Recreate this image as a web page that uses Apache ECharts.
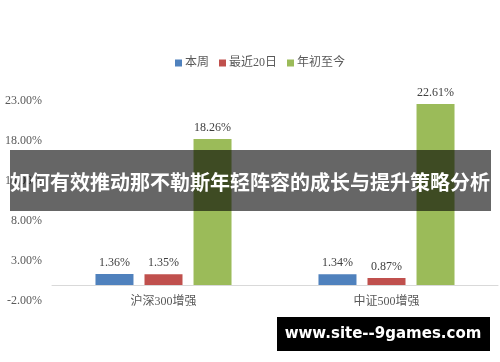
<!DOCTYPE html>
<html>
<head>
<meta charset="utf-8">
<script src="https://cdn.jsdelivr.net/npm/echarts@6/dist/echarts.min.js"></script>
<style>
html,body{margin:0;padding:0;background:#fff;}
#chart{width:500px;height:362px;}
</style>
</head>
<body>
<div id="chart"></div>
<script>
const categories = ['沪深300增强', '中证500增强'];
const seriesNames = ['本周', '最近20日', '年初至今'];
const weekValues = [1.36, 1.34];
const last20Values = [1.35, 0.87];
const ytdValues = [18.26, 22.61];
const yTicks = [-2, 3, 8, 13, 18, 23];
const bannerText = '如何有效推动那不勒斯年轻阵容的成长与提升策略分析';
const watermarkText = 'www.site--9games.com';

const colors = ['#4F81BD', '#C0504D', '#9BBB59'];
const serif = '"Liberation Serif", "Noto Sans CJK SC", serif';

const chart = echarts.init(document.getElementById('chart'), null, {renderer: 'canvas'});

function mkSeries(name, data, color) {
  return {
    name: name,
    type: 'bar',
    data: data,
    barWidth: 38,
    barGap: '29%',
    itemStyle: {color: color},
    label: {
      show: true,
      position: 'top',
      distance: 5,
      formatter: p => p.value.toFixed(2) + '%',
      fontFamily: serif,
      fontSize: 12,
      color: '#404040'
    }
  };
}

chart.setOption({
  animation: false,
  color: colors,
  legend: {
    top: 52,
    left: 170,
    itemWidth: 7,
    itemHeight: 7,
    itemGap: 10,
    icon: 'rect',
    textStyle: {fontFamily: serif, fontSize: 12, color: '#595959', padding: [0, 0, 0, -2]},
    data: seriesNames
  },
  grid: {left: 52, right: 2, top: 101, bottom: 61, containLabel: false},
  xAxis: {
    type: 'category',
    data: categories,
    axisLine: {show: true, onZero: true, lineStyle: {color: '#D9D9D9', width: 1}},
    axisTick: {show: false},
    axisLabel: {fontFamily: serif, fontSize: 12, color: '#595959', margin: -5}
  },
  yAxis: {
    type: 'value',
    min: yTicks[0],
    max: yTicks[yTicks.length - 1],
    interval: 5,
    splitLine: {show: false},
    axisLine: {show: false},
    axisTick: {show: false},
    axisLabel: {
      fontFamily: serif, fontSize: 12, color: '#595959', margin: 10,
      formatter: v => v.toFixed(2) + '%'
    }
  },
  series: [
    mkSeries(seriesNames[0], weekValues, colors[0]),
    mkSeries(seriesNames[1], last20Values, colors[1]),
    mkSeries(seriesNames[2], ytdValues, colors[2])
  ],
  graphic: [
    {type: 'rect', shape: {x: 10, y: 150, width: 481, height: 61}, style: {fill: 'rgba(0,0,0,0.6)'}, z: 100},
    {type: 'text', x: 250, y: 182, z: 101, style: {text: bannerText, fill: '#fff', font: 'bold 20px "Noto Sans CJK SC"', textAlign: 'center', textVerticalAlign: 'middle'}},
    {type: 'rect', shape: {x: 277, y: 317, width: 213, height: 34}, style: {fill: '#000'}, z: 100},
    {type: 'text', x: 383, y: 334, z: 101, style: {text: watermarkText, fill: '#fff', font: 'bold 15px "DejaVu Sans"', textAlign: 'center', textVerticalAlign: 'middle'}}
  ]
});
</script>
</body>
</html>
